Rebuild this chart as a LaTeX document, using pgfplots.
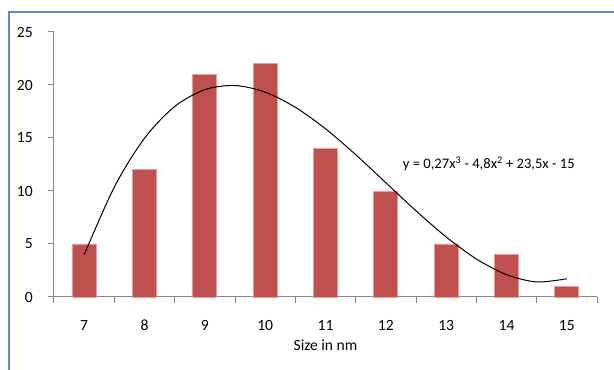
\documentclass[border=0pt]{standalone}
\usepackage{pgfplots}
\pgfplotsset{compat=1.18}
\usepackage{fontspec}
\setmainfont{Carlito}
\definecolor{barred}{RGB}{192,80,77}
\definecolor{baredge}{RGB}{228,160,158}
\definecolor{axgray}{RGB}{134,134,134}
\definecolor{frameblue}{RGB}{96,138,200}
\begin{document}
\begin{tikzpicture}[x=1pt,y=1pt]
\useasboundingbox (0,0) rectangle (614,370);
\draw[frameblue, line width=2.5pt] (9,0) -- (9,358) -- (614,358);
\begin{axis}[
  at={(54pt,73pt)}, anchor=south west,
  scale only axis, width=543pt, height=265pt,
  xmin=6.5, xmax=15.5, ymin=0, ymax=25,
  axis x line*=bottom, axis y line*=left,
  axis line style={axgray, line width=1pt, -},
  xtick={7,...,15}, major x tick style={draw=none},
  minor xtick={6.5,7.5,...,15.5},
  minor x tick style={axgray, line width=1pt},
  ytick={0,5,...,25},
  y tick style={axgray, line width=1pt},
  tick align=outside, major tick length=6pt, minor tick length=6pt,
  tick label style={font=\fontsize{15.6}{18}\selectfont},
  /pgf/number format/assume math mode=true,
  xticklabel style={anchor=base, yshift=-27pt, inner sep=0pt},
  yticklabel style={anchor=east, inner sep=0pt, xshift=-15pt},
  xlabel={Size in nm},
  xlabel style={font=\fontsize{15.6}{18}\selectfont, anchor=base, at={(axis description cs:0.5,0)}, yshift=-53pt, inner sep=0pt},
  clip=false,
]
\addplot[ybar, bar width=24pt, fill=barred, draw=baredge, line width=0.8pt]
  coordinates {(7,5) (8,12) (9,21) (10,22) (11,14) (12,10) (13,5) (14,4) (15,1)};
\addplot[black, line width=1pt, smooth, no marks] coordinates {
 (7,3.98) (7.5,10.38) (8,14.98) (8.5,17.97) (9,19.56) (9.5,19.95) (10,19.33)
 (10.5,17.90) (11,15.87) (11.5,13.43) (12,10.78) (12.5,8.13) (13,5.67)
 (13.5,3.59) (14,2.11) (14.5,1.42) (15,1.72)};
\node[anchor=west, inner sep=0pt, font=\fontsize{14.6}{17}\selectfont]
  at (axis cs:12.28,12.55) {y = 0,27x\textsuperscript{3} - 4,8x\textsuperscript{2} + 23,5x - 15};
\end{axis}
\end{tikzpicture}
\end{document}
